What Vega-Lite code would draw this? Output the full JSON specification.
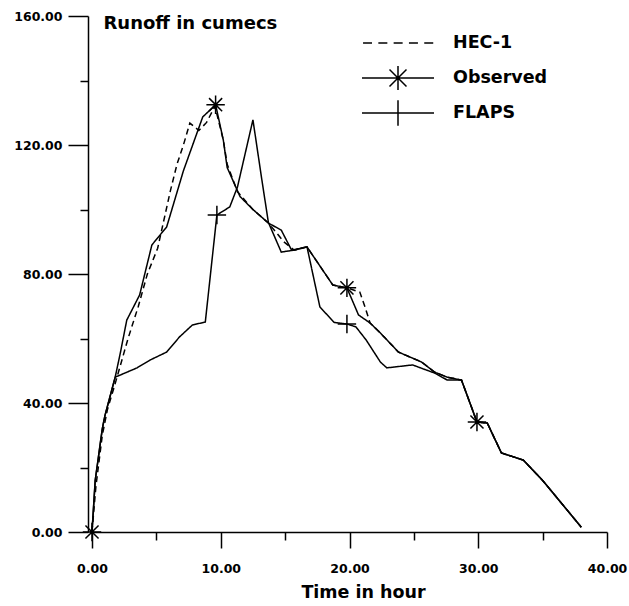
{
  "$schema": "https://vega.github.io/schema/vega-lite/v6.json",
  "width": 515,
  "height": 516,
  "autosize": {"type": "none"},
  "padding": {"left": 92, "top": 16, "right": 22, "bottom": 74},
  "background": "white",
  "config": {
    "view": {"stroke": null},
    "font": "DejaVu Sans",
    "axis": {"grid": false, "labelFlush": false, "domainColor": "black", "tickColor": "black", "labelColor": "black", "titleColor": "black", "domainWidth": 1.5, "tickWidth": 1.5, "labelFont": "DejaVu Sans", "labelFontSize": 12.5, "labelFontWeight": "bold", "titleFont": "DejaVu Sans", "titleFontSize": 17.5, "titleFontWeight": "bold"}
  },
  "datasets": {
    "lines": [
      {"series": "Observed", "t": 0, "v": 0},
      {"series": "Observed", "t": 0.25, "v": 16},
      {"series": "Observed", "t": 0.8, "v": 32},
      {"series": "Observed", "t": 1.0, "v": 36},
      {"series": "Observed", "t": 1.8, "v": 48},
      {"series": "Observed", "t": 2.2, "v": 55.5},
      {"series": "Observed", "t": 2.7, "v": 65.7},
      {"series": "Observed", "t": 3.7, "v": 73.5},
      {"series": "Observed", "t": 4.65, "v": 89},
      {"series": "Observed", "t": 5.8, "v": 94.6},
      {"series": "Observed", "t": 7.1, "v": 112},
      {"series": "Observed", "t": 8.6, "v": 128.7},
      {"series": "Observed", "t": 9.6, "v": 132.5},
      {"series": "Observed", "t": 10.2, "v": 121.5},
      {"series": "Observed", "t": 10.5, "v": 113},
      {"series": "Observed", "t": 11.1, "v": 107.6},
      {"series": "Observed", "t": 11.5, "v": 104},
      {"series": "Observed", "t": 12.5, "v": 100},
      {"series": "Observed", "t": 13.7, "v": 95.8},
      {"series": "Observed", "t": 14.7, "v": 93.6},
      {"series": "Observed", "t": 15.5, "v": 87.4},
      {"series": "Observed", "t": 16.7, "v": 88.4},
      {"series": "Observed", "t": 18.7, "v": 76.6},
      {"series": "Observed", "t": 19.8, "v": 75.7},
      {"series": "Observed", "t": 20.7, "v": 67.3},
      {"series": "Observed", "t": 21.6, "v": 64.8},
      {"series": "Observed", "t": 22.4, "v": 61.7},
      {"series": "Observed", "t": 23.8, "v": 55.8},
      {"series": "Observed", "t": 25.6, "v": 52.7},
      {"series": "Observed", "t": 26.6, "v": 49.6},
      {"series": "Observed", "t": 27.6, "v": 48},
      {"series": "Observed", "t": 28.7, "v": 47.1},
      {"series": "Observed", "t": 29.9, "v": 34.1},
      {"series": "Observed", "t": 30.7, "v": 33.8},
      {"series": "Observed", "t": 31.8, "v": 24.5},
      {"series": "Observed", "t": 33.5, "v": 22.3},
      {"series": "Observed", "t": 35, "v": 16},
      {"series": "Observed", "t": 38, "v": 1.5},
      {"series": "FLAPS", "t": 0, "v": 0},
      {"series": "FLAPS", "t": 0.25, "v": 16},
      {"series": "FLAPS", "t": 0.8, "v": 32},
      {"series": "FLAPS", "t": 1.0, "v": 36},
      {"series": "FLAPS", "t": 1.8, "v": 48},
      {"series": "FLAPS", "t": 3.5, "v": 50.9},
      {"series": "FLAPS", "t": 4.5, "v": 53.3},
      {"series": "FLAPS", "t": 5.8, "v": 55.8},
      {"series": "FLAPS", "t": 6.8, "v": 60.5},
      {"series": "FLAPS", "t": 7.8, "v": 64.2},
      {"series": "FLAPS", "t": 8.8, "v": 65.1},
      {"series": "FLAPS", "t": 9.7, "v": 98.3},
      {"series": "FLAPS", "t": 10.7, "v": 100.8},
      {"series": "FLAPS", "t": 11.3, "v": 107},
      {"series": "FLAPS", "t": 12.5, "v": 127.8},
      {"series": "FLAPS", "t": 13.2, "v": 109},
      {"series": "FLAPS", "t": 13.7, "v": 96},
      {"series": "FLAPS", "t": 14.7, "v": 86.8},
      {"series": "FLAPS", "t": 15.7, "v": 87.4},
      {"series": "FLAPS", "t": 16.7, "v": 88.4},
      {"series": "FLAPS", "t": 17.7, "v": 69.8},
      {"series": "FLAPS", "t": 18.8, "v": 65},
      {"series": "FLAPS", "t": 19.8, "v": 64.5},
      {"series": "FLAPS", "t": 20.5, "v": 63.6},
      {"series": "FLAPS", "t": 21.3, "v": 59.5},
      {"series": "FLAPS", "t": 22.4, "v": 52.7},
      {"series": "FLAPS", "t": 22.9, "v": 50.9},
      {"series": "FLAPS", "t": 24.9, "v": 51.8},
      {"series": "FLAPS", "t": 26.6, "v": 49.3},
      {"series": "FLAPS", "t": 27.6, "v": 47.1},
      {"series": "FLAPS", "t": 28.7, "v": 47.1},
      {"series": "FLAPS", "t": 29.9, "v": 34.1},
      {"series": "FLAPS", "t": 30.7, "v": 33.8},
      {"series": "FLAPS", "t": 31.8, "v": 24.5},
      {"series": "FLAPS", "t": 33.5, "v": 22.3},
      {"series": "FLAPS", "t": 35, "v": 16},
      {"series": "FLAPS", "t": 38, "v": 1.5},
      {"series": "HEC-1", "t": 0, "v": 0},
      {"series": "HEC-1", "t": 0.3, "v": 14},
      {"series": "HEC-1", "t": 0.8, "v": 30},
      {"series": "HEC-1", "t": 1.2, "v": 38},
      {"series": "HEC-1", "t": 1.8, "v": 46},
      {"series": "HEC-1", "t": 2.8, "v": 60},
      {"series": "HEC-1", "t": 3.6, "v": 70},
      {"series": "HEC-1", "t": 4.3, "v": 80},
      {"series": "HEC-1", "t": 5.1, "v": 88},
      {"series": "HEC-1", "t": 6.1, "v": 106},
      {"series": "HEC-1", "t": 6.6, "v": 114},
      {"series": "HEC-1", "t": 7.1, "v": 120},
      {"series": "HEC-1", "t": 7.6, "v": 126.8},
      {"series": "HEC-1", "t": 8.3, "v": 124.5},
      {"series": "HEC-1", "t": 8.9, "v": 127},
      {"series": "HEC-1", "t": 9.55, "v": 132},
      {"series": "HEC-1", "t": 10.2, "v": 121.5},
      {"series": "HEC-1", "t": 10.5, "v": 114},
      {"series": "HEC-1", "t": 11.3, "v": 105.5},
      {"series": "HEC-1", "t": 12.5, "v": 100},
      {"series": "HEC-1", "t": 13.7, "v": 95.8},
      {"series": "HEC-1", "t": 14.9, "v": 90},
      {"series": "HEC-1", "t": 15.7, "v": 87.4},
      {"series": "HEC-1", "t": 16.7, "v": 88.4},
      {"series": "HEC-1", "t": 18.7, "v": 76.6},
      {"series": "HEC-1", "t": 19.8, "v": 75.7},
      {"series": "HEC-1", "t": 20.8, "v": 74.4},
      {"series": "HEC-1", "t": 21.2, "v": 69.8},
      {"series": "HEC-1", "t": 21.6, "v": 64.8},
      {"series": "HEC-1", "t": 22.4, "v": 61.7},
      {"series": "HEC-1", "t": 23.8, "v": 55.8},
      {"series": "HEC-1", "t": 25.6, "v": 52.7},
      {"series": "HEC-1", "t": 26.6, "v": 49.6},
      {"series": "HEC-1", "t": 27.6, "v": 48},
      {"series": "HEC-1", "t": 28.7, "v": 47.1},
      {"series": "HEC-1", "t": 29.9, "v": 34.1},
      {"series": "HEC-1", "t": 30.7, "v": 33.8},
      {"series": "HEC-1", "t": 31.8, "v": 24.5},
      {"series": "HEC-1", "t": 33.5, "v": 22.3},
      {"series": "HEC-1", "t": 35, "v": 16},
      {"series": "HEC-1", "t": 38, "v": 1.5}
    ],
    "markers": [
      {"series": "Observed", "t": 0, "v": 0},
      {"series": "Observed", "t": 9.6, "v": 132.5},
      {"series": "Observed", "t": 19.8, "v": 75.7},
      {"series": "Observed", "t": 29.9, "v": 34.1},
      {"series": "FLAPS", "t": 9.7, "v": 98.3},
      {"series": "FLAPS", "t": 19.8, "v": 64.5}
    ]
  },
  "encoding": {
    "x": {
      "field": "t", "type": "quantitative",
      "scale": {"domain": [0, 40], "nice": false, "zero": false},
      "axis": {
        "title": "Time in hour",
        "values": [0, 5, 10, 15, 20, 25, 30, 35, 40],
        "labelExpr": "datum.value % 10 === 0 ? format(datum.value, '.2f') : ''",
        "tickSize": {"condition": {"test": "datum.value % 10 === 0", "value": 16}, "value": 8},
        "labelPadding": 14,
        "titleX": 271,
        "titleY": 65,
        "titleAlign": "center",
        "titleBaseline": "alphabetic"
      }
    },
    "y": {
      "field": "v", "type": "quantitative",
      "scale": {"domain": [0, 160], "nice": false},
      "axis": {
        "title": "Runoff in cumecs",
        "offset": 4,
        "values": [0, 20, 40, 60, 80, 100, 120, 140, 160],
        "labelExpr": "datum.value % 40 === 0 ? format(datum.value, '.2f') : ''",
        "tickSize": {"condition": {"test": "datum.value % 40 === 0", "value": 20}, "value": 8},
        "labelPadding": 6,
        "titleAngle": 0,
        "titleX": 15,
        "titleY": 12,
        "titleFontSize": 18,
        "titleAlign": "left",
        "titleBaseline": "alphabetic"
      }
    }
  },
  "layer": [
    {
      "data": {"name": "lines"},
      "mark": {"type": "line", "color": "black", "strokeWidth": 1.5},
      "encoding": {
        "detail": {"field": "series", "type": "nominal"},
        "strokeDash": {"condition": {"test": "datum.series === 'HEC-1'", "value": [6, 4]}, "value": [1, 0]}
      }
    },
    {
      "data": {"name": "markers"},
      "mark": {"type": "point", "filled": false, "color": "black", "strokeWidth": 1.5, "size": 340, "opacity": 1},
      "encoding": {
        "shape": {
          "field": "series", "type": "nominal",
          "scale": {
            "domain": ["HEC-1", "Observed", "FLAPS"],
            "range": [
              "M-1,0L1,0",
              "M-1,0L1,0M0,-1L0,1M-0.71,-0.71L0.71,0.71M-0.71,0.71L0.71,-0.71",
              "M-1,0L1,0M0,-1L0,1"
            ]
          },
          "legend": null
        }
      }
    },
    {
      "data": {"name": "markers"},
      "mark": {"type": "point", "filled": false, "color": "black", "strokeWidth": 1.5, "size": 0, "opacity": 1},
      "encoding": {
        "shape": {
          "field": "series", "type": "nominal",
          "scale": {
            "domain": ["HEC-1", "Observed", "FLAPS"],
            "range": [
              "M-0.971,0L-0.721,0M-0.546,0L-0.296,0M-0.121,0L0.129,0M0.304,0L0.554,0M0.729,0L0.979,0",
              "M-1,0L1,0M0,-0.333L0,0.333M-0.236,-0.236L0.236,0.236M-0.236,0.236L0.236,-0.236",
              "M-1,0L1,0M0,-0.354L0,0.354"
            ]
          },
          "legend": {
            "title": null,
            "orient": "none",
            "legendX": 269,
            "legendY": 12,
            "symbolSize": 5184,
            "symbolStrokeWidth": 1.5,
            "symbolStrokeColor": "black",
            "labelFont": "DejaVu Sans",
            "labelFontSize": 17.5,
            "labelFontWeight": "bold",
            "labelColor": "black",
            "labelOffset": 18,
            "clipHeight": 30,
            "rowPadding": 5
          }
        }
      }
    }
  ],
  "resolve": {"scale": {"shape": "independent"}}
}
